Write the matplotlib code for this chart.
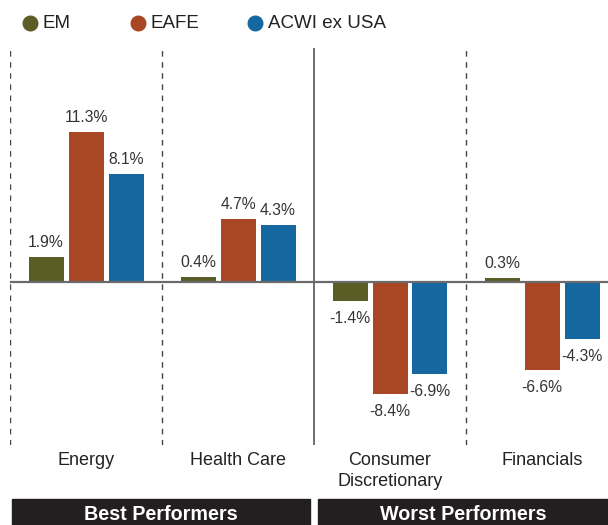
import matplotlib.pyplot as plt
from matplotlib.lines import Line2D
from matplotlib.patches import Rectangle
from matplotlib.transforms import blended_transform_factory
import numpy as np

plt.rcParams['font.family'] = ['Liberation Sans', 'DejaVu Sans']

# data
sectors = ["Energy", "Health Care", "Consumer\nDiscretionary", "Financials"]
series = ["EM", "EAFE", "ACWI ex USA"]
em = [1.9, 0.4, -1.4, 0.3]
eafe = [11.3, 4.7, -8.4, -6.6]
acwi = [8.1, 4.3, -6.9, -4.3]
groups = ["Best Performers", "Worst Performers"]

colors = ["#5b5d26", "#a94724", "#15679f"]
txt = "#333333"

W, H = 608, 525
fig = plt.figure(figsize=(W / 100, H / 100), dpi=100)

def fx(px):
    return px / W

def fy(py):
    return 1 - py / H

# axes spans x 10..608, y 48..445 (pixels)
ax = fig.add_axes([fx(10), fy(445), fx(598), (445 - 48) / H])
ppu = 13.3  # pixels per percent
ax.set_xlim(0, 598 / 152)
ax.set_ylim(-(445 - 282) / ppu, (282 - 48) / ppu)
ax.axis("off")

x = np.arange(len(sectors)) + 0.5
bw = 35 / 152
off = 40 / 152
vals = [em, eafe, acwi]
for i, (v, c) in enumerate(zip(vals, colors)):
    xs = x + (i - 1) * off
    ax.bar(xs, v, width=bw, color=c, zorder=2)
    for xx, vv in zip(xs, v):
        if vv >= 0:
            ax.text(xx, vv + 7 / ppu, f"{vv:.1f}%", ha="center", va="bottom",
                    fontsize=11.3, color=txt)
        else:
            ax.text(xx, vv - 10 / ppu, f"{vv:.1f}%", ha="center", va="top",
                    fontsize=11.3, color=txt)

ax.axhline(0, color="#6b6b6b", lw=1.6, zorder=3)
for xv in [0, 1, 3]:
    ax.axvline(xv, color="#444444", lw=1, ls=(0, (4, 4)), zorder=1)
ax.axvline(2, color="#555555", lw=1.2, zorder=1)

# category labels
tr = blended_transform_factory(ax.transData, fig.transFigure)
for xx, s in zip(x, sectors):
    fig.text(xx, fy(452), s, transform=tr, ha="center", va="top",
             fontsize=13, color="#222222", linespacing=1.3)

# black group boxes
boxes = [(12, 310), (318, 608)]
for (x0, x1), g in zip(boxes, groups):
    fig.patches.append(Rectangle((fx(x0), fy(525)), fx(x1 - x0), (525 - 499) / H,
                                 transform=fig.transFigure, color="#231f20"))
    fig.text(fx((x0 + x1) / 2), fy(515), g, ha="center", va="center",
             fontsize=14.2, fontweight="bold", color="white")

# legend
leg_x = [30, 138, 255]
for name, c, lx in zip(series, colors, leg_x):
    fig.add_artist(Line2D([fx(lx)], [fy(23)], marker="o", markersize=10.5,
                          color=c, transform=fig.transFigure))
    fig.text(fx(lx + 13), fy(23.5), name, ha="left", va="center",
             fontsize=13.5, color="#222222")

fig.savefig("out.png", dpi=100)
